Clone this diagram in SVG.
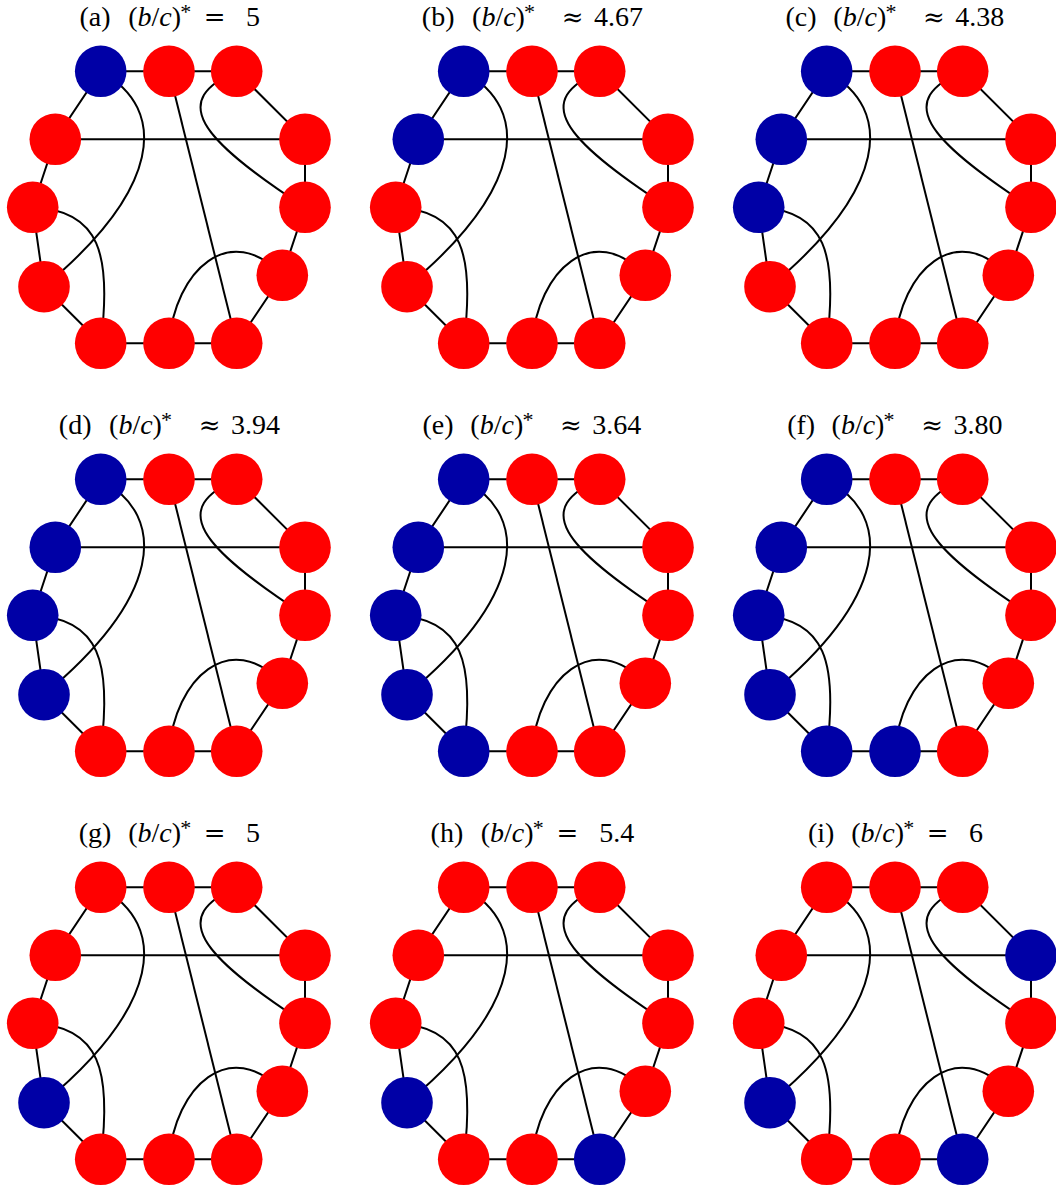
<svg xmlns="http://www.w3.org/2000/svg" xmlns:xlink="http://www.w3.org/1999/xlink" width="1056" height="1189" viewBox="0 0 1056 1189">
<style>
.t{font-family:"Liberation Serif","DejaVu Serif",serif;font-size:28px;fill:#000;text-anchor:middle}
.i{font-style:italic}
.s{font-size:22px}
.q{font-family:"DejaVu Serif",serif;font-size:26px;font-weight:200}
.e{fill:none;stroke:#000;stroke-width:2}
.r{fill:#ff0000}
.b{fill:#0000a6}
</style>
<defs>
<g id="edges">
<path class="e" d="M100.7,71.3 L169,71.3 L236.7,71.3 L305,139.3 L305,207.3 L282.3,275.3 L236.7,343.3 L169,343.3 L100.7,343.3 L44,286.7 L32.7,207.3 L55.3,139.3 Z"/>
<path class="e" d="M55.3,139.3 L305,139.3"/>
<path class="e" d="M169,71.3 L236.7,343.3"/>
<path class="e" d="M100.7,71.3 C170,110 160,190 44,286.7"/>
<path class="e" d="M236.7,71.3 C170,100 197,137 305,207.3"/>
<path class="e" d="M32.7,207.3 C100,210 112,255 100.7,343.3"/>
<path class="e" d="M169,343.3 C175,270 230,220 282.3,275.3"/>
</g>
</defs>
<g id="connectors">
<use xlink:href="#edges"/>
<use xlink:href="#edges" transform="translate(363,0)"/>
<use xlink:href="#edges" transform="translate(726,0)"/>
<use xlink:href="#edges" transform="translate(0,408)"/>
<use xlink:href="#edges" transform="translate(363,408)"/>
<use xlink:href="#edges" transform="translate(726,408)"/>
<use xlink:href="#edges" transform="translate(0,816)"/>
<use xlink:href="#edges" transform="translate(363,816)"/>
<use xlink:href="#edges" transform="translate(726,816)"/>
</g>
<g id="titles">
<text class="t" y="26"><tspan x="95.1">(a)</tspan><tspan x="154.6">(<tspan class="i">b</tspan>/<tspan class="i">c</tspan>)</tspan><tspan class="s" x="185.7" y="18.5">*</tspan><tspan class="q" x="214.7" y="26">=</tspan><tspan x="253">5</tspan></text>
<text class="t" y="26"><tspan x="438.2">(b)</tspan><tspan x="498.5">(<tspan class="i">b</tspan>/<tspan class="i">c</tspan>)</tspan><tspan class="s" x="529.6" y="18.5">*</tspan><tspan class="q" x="572.6" y="26">≈</tspan><tspan x="618.4">4.67</tspan></text>
<text class="t" y="26"><tspan x="801.1">(c)</tspan><tspan x="859.8">(<tspan class="i">b</tspan>/<tspan class="i">c</tspan>)</tspan><tspan class="s" x="890.9" y="18.5">*</tspan><tspan class="q" x="933.9" y="26">≈</tspan><tspan x="979.7">4.38</tspan></text>
<text class="t" y="434"><tspan x="75.2">(d)</tspan><tspan x="135.5">(<tspan class="i">b</tspan>/<tspan class="i">c</tspan>)</tspan><tspan class="s" x="166.6" y="426.5">*</tspan><tspan class="q" x="209.6" y="434">≈</tspan><tspan x="255.4">3.94</tspan></text>
<text class="t" y="434"><tspan x="438.1">(e)</tspan><tspan x="496.8">(<tspan class="i">b</tspan>/<tspan class="i">c</tspan>)</tspan><tspan class="s" x="527.9" y="426.5">*</tspan><tspan class="q" x="570.9" y="434">≈</tspan><tspan x="616.7">3.64</tspan></text>
<text class="t" y="434"><tspan x="801.2">(f)</tspan><tspan x="858">(<tspan class="i">b</tspan>/<tspan class="i">c</tspan>)</tspan><tspan class="s" x="889.1" y="426.5">*</tspan><tspan class="q" x="932.1" y="434">≈</tspan><tspan x="977.9">3.80</tspan></text>
<text class="t" y="842"><tspan x="95.1">(g)</tspan><tspan x="154.6">(<tspan class="i">b</tspan>/<tspan class="i">c</tspan>)</tspan><tspan class="s" x="185.7" y="834.5">*</tspan><tspan class="q" x="214.7" y="842">=</tspan><tspan x="253">5</tspan></text>
<text class="t" y="842"><tspan x="446.9">(h)</tspan><tspan x="507.2">(<tspan class="i">b</tspan>/<tspan class="i">c</tspan>)</tspan><tspan class="s" x="538.3" y="834.5">*</tspan><tspan class="q" x="567.3" y="842">=</tspan><tspan x="616.8">5.4</tspan></text>
<text class="t" y="842"><tspan x="821.2">(i)</tspan><tspan x="877.6">(<tspan class="i">b</tspan>/<tspan class="i">c</tspan>)</tspan><tspan class="s" x="908.7" y="834.5">*</tspan><tspan class="q" x="937.7" y="842">=</tspan><tspan x="975.9">6</tspan></text>
</g>
<g id="panel-a">
<g id="a-n1"><circle class="b" cx="100.7" cy="71.3" r="25.8"/></g>
<g id="a-n2"><circle class="r" cx="169" cy="71.3" r="25.8"/></g>
<g id="a-n3"><circle class="r" cx="236.7" cy="71.3" r="25.8"/></g>
<g id="a-n4"><circle class="r" cx="305" cy="139.3" r="25.8"/></g>
<g id="a-n5"><circle class="r" cx="305" cy="207.3" r="25.8"/></g>
<g id="a-n6"><circle class="r" cx="282.3" cy="275.3" r="25.8"/></g>
<g id="a-n7"><circle class="r" cx="236.7" cy="343.3" r="25.8"/></g>
<g id="a-n8"><circle class="r" cx="169" cy="343.3" r="25.8"/></g>
<g id="a-n9"><circle class="r" cx="100.7" cy="343.3" r="25.8"/></g>
<g id="a-n10"><circle class="r" cx="44" cy="286.7" r="25.8"/></g>
<g id="a-n11"><circle class="r" cx="32.7" cy="207.3" r="25.8"/></g>
<g id="a-n12"><circle class="r" cx="55.3" cy="139.3" r="25.8"/></g>
</g>
<g id="panel-b" transform="translate(363,0)">
<g id="b-n1"><circle class="b" cx="100.7" cy="71.3" r="25.8"/></g>
<g id="b-n2"><circle class="r" cx="169" cy="71.3" r="25.8"/></g>
<g id="b-n3"><circle class="r" cx="236.7" cy="71.3" r="25.8"/></g>
<g id="b-n4"><circle class="r" cx="305" cy="139.3" r="25.8"/></g>
<g id="b-n5"><circle class="r" cx="305" cy="207.3" r="25.8"/></g>
<g id="b-n6"><circle class="r" cx="282.3" cy="275.3" r="25.8"/></g>
<g id="b-n7"><circle class="r" cx="236.7" cy="343.3" r="25.8"/></g>
<g id="b-n8"><circle class="r" cx="169" cy="343.3" r="25.8"/></g>
<g id="b-n9"><circle class="r" cx="100.7" cy="343.3" r="25.8"/></g>
<g id="b-n10"><circle class="r" cx="44" cy="286.7" r="25.8"/></g>
<g id="b-n11"><circle class="r" cx="32.7" cy="207.3" r="25.8"/></g>
<g id="b-n12"><circle class="b" cx="55.3" cy="139.3" r="25.8"/></g>
</g>
<g id="panel-c" transform="translate(726,0)">
<g id="c-n1"><circle class="b" cx="100.7" cy="71.3" r="25.8"/></g>
<g id="c-n2"><circle class="r" cx="169" cy="71.3" r="25.8"/></g>
<g id="c-n3"><circle class="r" cx="236.7" cy="71.3" r="25.8"/></g>
<g id="c-n4"><circle class="r" cx="305" cy="139.3" r="25.8"/></g>
<g id="c-n5"><circle class="r" cx="305" cy="207.3" r="25.8"/></g>
<g id="c-n6"><circle class="r" cx="282.3" cy="275.3" r="25.8"/></g>
<g id="c-n7"><circle class="r" cx="236.7" cy="343.3" r="25.8"/></g>
<g id="c-n8"><circle class="r" cx="169" cy="343.3" r="25.8"/></g>
<g id="c-n9"><circle class="r" cx="100.7" cy="343.3" r="25.8"/></g>
<g id="c-n10"><circle class="r" cx="44" cy="286.7" r="25.8"/></g>
<g id="c-n11"><circle class="b" cx="32.7" cy="207.3" r="25.8"/></g>
<g id="c-n12"><circle class="b" cx="55.3" cy="139.3" r="25.8"/></g>
</g>
<g id="panel-d" transform="translate(0,408)">
<g id="d-n1"><circle class="b" cx="100.7" cy="71.3" r="25.8"/></g>
<g id="d-n2"><circle class="r" cx="169" cy="71.3" r="25.8"/></g>
<g id="d-n3"><circle class="r" cx="236.7" cy="71.3" r="25.8"/></g>
<g id="d-n4"><circle class="r" cx="305" cy="139.3" r="25.8"/></g>
<g id="d-n5"><circle class="r" cx="305" cy="207.3" r="25.8"/></g>
<g id="d-n6"><circle class="r" cx="282.3" cy="275.3" r="25.8"/></g>
<g id="d-n7"><circle class="r" cx="236.7" cy="343.3" r="25.8"/></g>
<g id="d-n8"><circle class="r" cx="169" cy="343.3" r="25.8"/></g>
<g id="d-n9"><circle class="r" cx="100.7" cy="343.3" r="25.8"/></g>
<g id="d-n10"><circle class="b" cx="44" cy="286.7" r="25.8"/></g>
<g id="d-n11"><circle class="b" cx="32.7" cy="207.3" r="25.8"/></g>
<g id="d-n12"><circle class="b" cx="55.3" cy="139.3" r="25.8"/></g>
</g>
<g id="panel-e" transform="translate(363,408)">
<g id="e-n1"><circle class="b" cx="100.7" cy="71.3" r="25.8"/></g>
<g id="e-n2"><circle class="r" cx="169" cy="71.3" r="25.8"/></g>
<g id="e-n3"><circle class="r" cx="236.7" cy="71.3" r="25.8"/></g>
<g id="e-n4"><circle class="r" cx="305" cy="139.3" r="25.8"/></g>
<g id="e-n5"><circle class="r" cx="305" cy="207.3" r="25.8"/></g>
<g id="e-n6"><circle class="r" cx="282.3" cy="275.3" r="25.8"/></g>
<g id="e-n7"><circle class="r" cx="236.7" cy="343.3" r="25.8"/></g>
<g id="e-n8"><circle class="r" cx="169" cy="343.3" r="25.8"/></g>
<g id="e-n9"><circle class="b" cx="100.7" cy="343.3" r="25.8"/></g>
<g id="e-n10"><circle class="b" cx="44" cy="286.7" r="25.8"/></g>
<g id="e-n11"><circle class="b" cx="32.7" cy="207.3" r="25.8"/></g>
<g id="e-n12"><circle class="b" cx="55.3" cy="139.3" r="25.8"/></g>
</g>
<g id="panel-f" transform="translate(726,408)">
<g id="f-n1"><circle class="b" cx="100.7" cy="71.3" r="25.8"/></g>
<g id="f-n2"><circle class="r" cx="169" cy="71.3" r="25.8"/></g>
<g id="f-n3"><circle class="r" cx="236.7" cy="71.3" r="25.8"/></g>
<g id="f-n4"><circle class="r" cx="305" cy="139.3" r="25.8"/></g>
<g id="f-n5"><circle class="r" cx="305" cy="207.3" r="25.8"/></g>
<g id="f-n6"><circle class="r" cx="282.3" cy="275.3" r="25.8"/></g>
<g id="f-n7"><circle class="r" cx="236.7" cy="343.3" r="25.8"/></g>
<g id="f-n8"><circle class="b" cx="169" cy="343.3" r="25.8"/></g>
<g id="f-n9"><circle class="b" cx="100.7" cy="343.3" r="25.8"/></g>
<g id="f-n10"><circle class="b" cx="44" cy="286.7" r="25.8"/></g>
<g id="f-n11"><circle class="b" cx="32.7" cy="207.3" r="25.8"/></g>
<g id="f-n12"><circle class="b" cx="55.3" cy="139.3" r="25.8"/></g>
</g>
<g id="panel-g" transform="translate(0,816)">
<g id="g-n1"><circle class="r" cx="100.7" cy="71.3" r="25.8"/></g>
<g id="g-n2"><circle class="r" cx="169" cy="71.3" r="25.8"/></g>
<g id="g-n3"><circle class="r" cx="236.7" cy="71.3" r="25.8"/></g>
<g id="g-n4"><circle class="r" cx="305" cy="139.3" r="25.8"/></g>
<g id="g-n5"><circle class="r" cx="305" cy="207.3" r="25.8"/></g>
<g id="g-n6"><circle class="r" cx="282.3" cy="275.3" r="25.8"/></g>
<g id="g-n7"><circle class="r" cx="236.7" cy="343.3" r="25.8"/></g>
<g id="g-n8"><circle class="r" cx="169" cy="343.3" r="25.8"/></g>
<g id="g-n9"><circle class="r" cx="100.7" cy="343.3" r="25.8"/></g>
<g id="g-n10"><circle class="b" cx="44" cy="286.7" r="25.8"/></g>
<g id="g-n11"><circle class="r" cx="32.7" cy="207.3" r="25.8"/></g>
<g id="g-n12"><circle class="r" cx="55.3" cy="139.3" r="25.8"/></g>
</g>
<g id="panel-h" transform="translate(363,816)">
<g id="h-n1"><circle class="r" cx="100.7" cy="71.3" r="25.8"/></g>
<g id="h-n2"><circle class="r" cx="169" cy="71.3" r="25.8"/></g>
<g id="h-n3"><circle class="r" cx="236.7" cy="71.3" r="25.8"/></g>
<g id="h-n4"><circle class="r" cx="305" cy="139.3" r="25.8"/></g>
<g id="h-n5"><circle class="r" cx="305" cy="207.3" r="25.8"/></g>
<g id="h-n6"><circle class="r" cx="282.3" cy="275.3" r="25.8"/></g>
<g id="h-n7"><circle class="b" cx="236.7" cy="343.3" r="25.8"/></g>
<g id="h-n8"><circle class="r" cx="169" cy="343.3" r="25.8"/></g>
<g id="h-n9"><circle class="r" cx="100.7" cy="343.3" r="25.8"/></g>
<g id="h-n10"><circle class="b" cx="44" cy="286.7" r="25.8"/></g>
<g id="h-n11"><circle class="r" cx="32.7" cy="207.3" r="25.8"/></g>
<g id="h-n12"><circle class="r" cx="55.3" cy="139.3" r="25.8"/></g>
</g>
<g id="panel-i" transform="translate(726,816)">
<g id="i-n1"><circle class="r" cx="100.7" cy="71.3" r="25.8"/></g>
<g id="i-n2"><circle class="r" cx="169" cy="71.3" r="25.8"/></g>
<g id="i-n3"><circle class="r" cx="236.7" cy="71.3" r="25.8"/></g>
<g id="i-n4"><circle class="b" cx="305" cy="139.3" r="25.8"/></g>
<g id="i-n5"><circle class="r" cx="305" cy="207.3" r="25.8"/></g>
<g id="i-n6"><circle class="r" cx="282.3" cy="275.3" r="25.8"/></g>
<g id="i-n7"><circle class="b" cx="236.7" cy="343.3" r="25.8"/></g>
<g id="i-n8"><circle class="r" cx="169" cy="343.3" r="25.8"/></g>
<g id="i-n9"><circle class="r" cx="100.7" cy="343.3" r="25.8"/></g>
<g id="i-n10"><circle class="b" cx="44" cy="286.7" r="25.8"/></g>
<g id="i-n11"><circle class="r" cx="32.7" cy="207.3" r="25.8"/></g>
<g id="i-n12"><circle class="r" cx="55.3" cy="139.3" r="25.8"/></g>
</g>
</svg>
